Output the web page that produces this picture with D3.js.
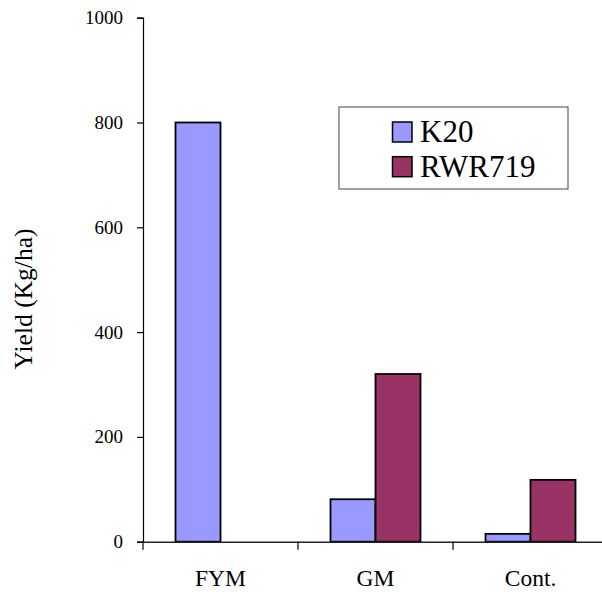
<!DOCTYPE html>
<html>
<head>
<meta charset="utf-8">
<script src="https://cdn.jsdelivr.net/npm/d3@7"></script>
<style>
  html, body { margin: 0; padding: 0; background: #fff; }
  svg { display: block; }
  svg text { font-family: "Liberation Serif", "Times New Roman", Times, Tinos, "DejaVu Serif", serif !important; }
</style>
</head>
<body>
<svg id="chart" width="602" height="592"></svg>
<script>
const categories = ["FYM", "GM", "Cont."];
const series = ["K20", "RWR719"];
const k20Values = [800, 81, 15];
const rwr719Values = [0, 320, 118];
const yTicks = [0, 200, 400, 600, 800, 1000];
const colors = ["#9999FF", "#993366"];
const yLabel = "Yield (Kg/ha)";

const seriesValues = [k20Values, rwr719Values];
const rows = categories.map((c, i) => ({
  cat: c,
  vals: series.map((s, j) => ({ key: s, value: seriesValues[j][i], color: colors[j] }))
}));

const svg = d3.select("#chart");
const x0 = d3.scaleBand().domain(categories).range([143, 608]).padding(0);
const x1 = d3.scaleBand().domain(series).range([32.5, 122.5]).padding(0);
const y = d3.scaleLinear().domain([0, 1000]).range([541.7, 17.7]);

// Bars
const g = svg.append("g");
rows.forEach(r => {
  g.selectAll(null)
    .data(r.vals.filter(v => v.value > 0))
    .enter().append("rect")
    .attr("x", d => x0(r.cat) + x1(d.key))
    .attr("y", d => y(d.value))
    .attr("width", x1.bandwidth())
    .attr("height", d => y(0) - y(d.value))
    .attr("fill", d => d.color)
    .attr("stroke", "#000")
    .attr("stroke-width", 1.8);
});

// Y axis
const yAxis = d3.axisLeft(y).tickValues(yTicks).tickSize(6).tickPadding(14).tickFormat(d3.format("d"));
const yg = svg.append("g").attr("transform", "translate(143,0)").call(yAxis);
yg.select(".domain").attr("stroke", "#000").attr("stroke-width", 1.2);
yg.selectAll(".tick line").attr("stroke", "#000").attr("stroke-width", 1.2);
yg.selectAll(".tick text").attr("font-size", 19).attr("fill", "#000");

// X axis
const xAxisLine = d3.axisBottom(x0).tickSize(0).tickFormat("");
const xg = svg.append("g").attr("transform", `translate(0,${y(0)})`).call(xAxisLine);
xg.select(".domain").attr("stroke", "#222").attr("stroke-width", 1.5);
const boundaries = categories.map(c => x0(c)).concat([x0.range()[1]]);
xg.selectAll(".bt").data(boundaries).enter().append("line")
  .attr("x1", d => d).attr("x2", d => d)
  .attr("y1", 0).attr("y2", 8)
  .attr("stroke", "#000").attr("stroke-width", 1.2);
xg.selectAll(".xl").data(categories).enter().append("text")
  .attr("x", d => x0(d) + x0.bandwidth() / 2)
  .attr("y", 44)
  .attr("text-anchor", "middle")
  .attr("font-size", 23.5)
  .attr("fill", "#000")
  .text(d => d);

// Y label
svg.append("text")
  .attr("transform", "translate(32,299) rotate(-90)")
  .attr("text-anchor", "middle")
  .attr("font-size", 25.5)
  .attr("fill", "#000")
  .text(yLabel);

// Legend
const lg = svg.append("g");
lg.append("rect").attr("x", 339).attr("y", 107).attr("width", 229).attr("height", 82)
  .attr("fill", "#fff").attr("stroke", "#444").attr("stroke-width", 1);
const legY = d3.scalePoint().domain(series).range([122, 156.7]);
series.forEach((s, j) => {
  lg.append("rect").attr("x", 392.5).attr("y", legY(s)).attr("width", 19.5).attr("height", 20)
    .attr("fill", colors[j]).attr("stroke", "#000").attr("stroke-width", 1.5);
  lg.append("text").attr("x", 420).attr("y", legY(s) + 19.8)
    .attr("font-size", 31).attr("fill", "#000").text(s);
});
</script>
</body>
</html>
